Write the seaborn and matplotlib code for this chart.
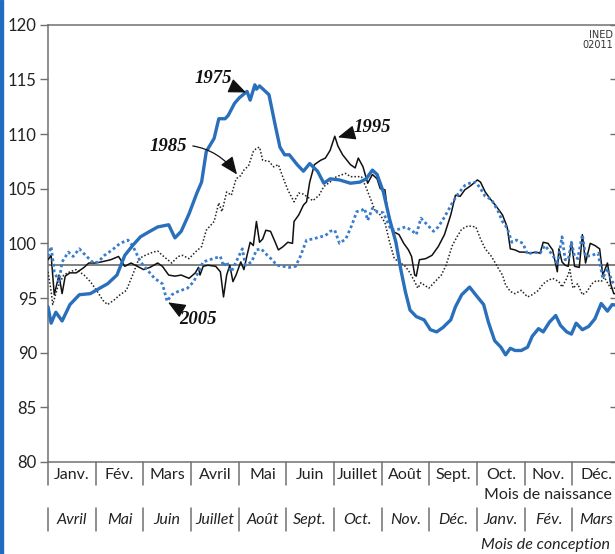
import matplotlib
matplotlib.use("Agg")
import numpy as np
import pandas as pd
import matplotlib.pyplot as plt
import seaborn as sns
from matplotlib import transforms
from matplotlib.lines import Line2D
from matplotlib.patches import Rectangle

# ---------------- data (day of year, index of births) ----------------
days_1975 = [0,2,5,9,14,20,27,33,38,44,49,54,59,65,70,77,81,85,90,95,98,101,106,109,113,115,119,122,127,129,
             132,133,135,141,145,148,151,154,159,163,167,172,176,180,186,193,199,203,207,210,214,218,222,225,228,
             231,235,240,244,248,252,257,260,264,269,274,278,281,285,289,292,295,298,302,306,309,313,316,320,324,
             327,331,334,337,341,345,349,353,357,360,365]
val_1975 = [94.2,92.7,93.7,92.9,94.4,95.3,95.4,95.9,96.3,97.1,98.9,99.8,100.6,101.1,101.5,101.7,100.5,101.1,102.7,104.6,
            105.6,108.4,109.6,111.4,111.4,111.7,112.8,113.3,113.9,113.1,114.5,114.1,114.4,113.6,110.8,108.8,108.1,108.1,
            107.2,106.6,107.3,106.6,105.5,105.9,105.8,105.5,105.6,105.9,106.7,106.3,104.7,102.2,100.1,97.7,95.6,93.9,
            93.3,93.0,92.1,91.9,92.3,93.0,94.2,95.3,96.0,95.1,94.4,92.8,91.1,90.5,89.8,90.4,90.2,90.2,90.5,91.5,92.2,
            91.9,92.8,93.4,92.5,91.9,91.7,92.7,92.1,92.4,93.1,94.5,93.8,94.4,94.3]

days_1985 = [0,2,3,6,8,10,14,18,23,27,31,35,38,42,46,50,54,58,62,67,70,73,79,83,86,90,94,98,101,106,
             109,111,114,117,120,123,125,128,131,133,135,137,141,144,147,150,153,157,160,163,166,169,173,176,180,
             184,190,193,197,200,203,206,209,212,215,218,221,225,228,231,234,236,238,243,247,251,254,258,261,264,
             268,273,276,279,283,287,290,292,295,298,302,306,309,313,316,319,322,326,328,331,333,335,338,341,344,
             347,350,353,355,359,365]
val_1985 = [97.4,95.6,94.4,95.9,96.5,97.1,97.4,97.6,97.1,96.5,95.7,94.8,94.4,94.8,95.3,95.7,97.1,98.6,98.9,99.2,
            99.3,98.9,98.2,98.8,98.9,98.6,99.2,99.7,101.2,102.0,103.7,102.9,104.7,104.4,105.9,106.2,106.7,107.1,108.4,
            108.7,108.8,107.6,107.5,107.0,107.2,106.0,104.9,103.8,104.6,104.5,104.2,103.9,104.4,105.2,105.6,106.1,
            106.4,106.1,106.1,106.1,105.1,104.0,102.9,102.6,101.9,100.1,98.6,98.2,97.9,97.3,96.5,95.9,96.4,95.9,96.5,
            97.1,98.0,99.8,100.6,101.3,101.6,101.5,100.4,99.5,98.8,97.8,97.1,96.2,95.6,95.4,95.7,95.1,95.3,95.7,96.3,
            96.6,96.8,96.5,96.0,96.8,97.6,95.9,96.3,95.3,95.6,96.3,96.6,96.5,96.9,95.9,95.9]

days_1995 = [0,2,4,7,9,11,14,18,23,26,30,34,40,45,49,53,57,61,65,70,73,77,81,85,90,94,96,97,99,102,
             107,110,112,114,116,118,120,123,125,127,129,131,133,135,137,139,142,145,147,150,153,156,157,160,163,
             165,167,170,174,177,180,183,185,188,193,196,198,201,204,207,210,212,215,217,220,224,227,230,232,234,
             235,237,241,245,249,253,257,260,263,266,270,274,276,279,282,286,290,293,295,298,301,304,308,311,314,
             316,319,322,325,326,328,330,332,334,336,339,341,343,346,349,352,354,357,359,361,365]
val_1995 = [98.5,98.9,95.3,97.1,95.4,97.0,97.3,97.3,97.8,98.2,98.2,98.3,98.5,98.8,97.9,98.2,97.9,97.6,97.8,98.2,
            97.9,97.1,97.0,97.1,96.8,97.3,97.8,97.1,97.9,98.0,97.9,97.4,95.1,97.1,98.0,96.5,97.1,98.3,97.6,98.9,
            100.1,99.8,102.0,100.1,100.4,101.2,101.1,100.1,99.4,99.7,100.1,100.0,102.0,102.6,103.5,103.8,105.6,107.2,
            107.6,107.8,108.5,109.8,108.9,108.1,107.2,106.9,107.8,107.0,105.5,106.3,105.9,105.0,104.9,102.6,101.1,
            100.8,100.0,99.4,98.8,97.1,97.0,98.5,98.6,98.9,99.7,100.8,102.6,104.4,104.3,104.9,105.3,105.8,105.6,104.7,
            104.1,103.4,102.6,101.5,99.5,99.4,99.2,99.2,99.1,99.2,99.1,100.1,100.0,99.4,97.4,99.5,98.3,98.0,97.9,
            100.1,97.9,97.8,100.8,98.2,100.0,99.8,99.5,97.1,98.2,96.3,95.4,95.4]

days_2005 = [0,2,4,7,9,13,16,20,24,29,32,36,41,46,51,54,59,65,68,73,76,79,83,89,93,96,99,103,110,112,
             114,117,120,124,126,130,133,136,140,143,146,150,154,158,161,165,169,174,177,180,183,186,190,194,197,
             200,202,204,207,210,214,219,224,228,232,235,238,242,246,249,253,258,262,266,269,273,276,279,283,287,
             290,293,296,299,303,306,310,314,317,320,324,325,328,330,332,334,336,338,341,343,347,351,354,357,360,365]
val_2005 = [98.8,99.7,97.4,96.5,98.3,99.2,98.8,99.5,98.9,98.2,98.3,98.9,99.4,100.0,100.3,99.8,98.3,97.3,96.8,96.3,
            94.7,95.3,95.6,95.9,96.5,97.4,98.3,98.5,98.8,97.9,98.3,97.4,98.3,99.5,98.0,98.3,99.4,99.5,98.9,98.5,
            98.0,97.9,97.8,97.9,98.8,100.3,100.4,100.6,100.7,101.1,101.2,100.0,100.4,101.7,102.9,103.0,103.2,102.1,
            103.2,102.9,102.8,101.2,101.3,101.5,101.2,100.8,102.3,101.7,101.1,101.5,102.4,103.7,104.6,105.3,105.5,
            105.6,105.0,104.3,104.0,103.0,102.0,101.4,100.1,100.3,100.0,99.0,99.2,99.1,99.8,99.3,98.5,98.0,100.6,
            98.5,98.5,100.1,98.8,98.6,100.8,98.8,98.9,99.1,96.8,97.7,96.5,95.8]

reference_level = 98
birth_months = ["Janv.", "Fév.", "Mars", "Avril", "Mai", "Juin", "Juillet", "Août", "Sept.", "Oct.", "Nov.", "Déc."]
conception_months = ["Avril", "Mai", "Juin", "Juillet", "Août", "Sept.", "Oct.", "Nov.", "Déc.", "Janv.", "Fév.", "Mars"]
y_ticks = [80, 85, 90, 95, 100, 105, 110, 115, 120]

# ---------------- styling ----------------
sns.set_style("ticks")
plt.rcParams['font.family'] = ['Lato', 'DejaVu Sans']

W, H = 615, 554
fig = plt.figure(figsize=(W / 100, H / 100), dpi=100)
fig.patch.set_facecolor("white")
L, R, T, B = 48, 620, 24.7, 462
ax = fig.add_axes([L / W, 1 - B / H, (R - L) / W, (B - T) / H])

BLUE = "#2a6fbb"
BLUE2 = "#3a7dcc"
GREY = "#707070"

ax.axhline(reference_level, color="#808080", lw=1.4, zorder=1)

sns.lineplot(x=days_1985, y=val_1985, ax=ax, color="#222222", lw=1.1, zorder=3)
ax.lines[-1].set_linestyle((0, (1, 1.3)))
sns.lineplot(x=days_1995, y=val_1995, ax=ax, color="#111111", lw=1.1, zorder=3)
sns.lineplot(x=days_2005, y=val_2005, ax=ax, color=BLUE2, lw=2.0, zorder=4)
ax.lines[-1].set_linestyle((0, (1, 1)))
sns.lineplot(x=days_1975, y=val_1975, ax=ax, color=BLUE, lw=2.4, zorder=5)

ax.set_xlim(0, 365)
ax.set_ylim(80, 120)
ax.set_yticks(y_ticks)
ax.set_xticks([])
ax.set_xlabel("")
ax.set_ylabel("")
ax.tick_params(axis="y", direction="out", length=6, width=1, color=GREY, labelsize=12, pad=2, labelcolor="#222222")
for s in ax.spines.values():
    s.set_color(GREY)
    s.set_linewidth(1.1)

ax2 = ax.twinx()
ax2.set_ylim(80, 120)
ax2.set_yticks(y_ticks)
ax2.tick_params(axis="y", direction="in", length=7, width=1, color=GREY, labelright=False)
for s in ax2.spines.values():
    s.set_visible(False)

# ---------------- month axis rows ----------------
trans = transforms.blended_transform_factory(ax.transData, fig.transFigure)
bounds = np.arange(13) * 365 / 12

def fy(py):
    return 1 - py / H

for k in range(12):
    ax.add_line(Line2D([bounds[k], bounds[k]], [fy(462), fy(485)], transform=trans,
                       color=GREY, lw=1.1, clip_on=False))
    ax.text((bounds[k] + bounds[k + 1]) / 2, fy(475), birth_months[k], transform=trans,
            ha="center", va="center", fontsize=11.5, color="#222222")
    ax.add_line(Line2D([bounds[k], bounds[k]], [fy(508), fy(531)], transform=trans,
                       color=GREY, lw=1.1, clip_on=False))
    ax.text((bounds[k] + bounds[k + 1]) / 2, fy(520), conception_months[k], transform=trans,
            ha="center", va="center", fontsize=11.5, style="italic", color="#222222")

fig.text(612 / W, fy(495), "Mois de naissance", ha="right", va="center", fontsize=11.5, color="#222222")
fig.text(610 / W, fy(545), "Mois de conception", ha="right", va="center", fontsize=11.5,
         style="italic", color="#222222")

fig.text(613 / W, fy(30), "INED\n02011", ha="right", va="top", fontsize=7, linespacing=1.0,
         family=["Liberation Sans Narrow", "DejaVu Sans"], color="#333333")

# ---------------- annotations ----------------
ann_font = dict(family=["Liberation Serif", "DejaVu Serif"], weight="bold", style="italic",
                fontsize=13.5, color="#111111")
arrow_kw = dict(arrowstyle="-|>,head_length=0.6,head_width=0.25", color="#111111", lw=0.9,
                mutation_scale=18, shrinkA=2, shrinkB=0)
ax.annotate("1975", xy=(126.4, 113.8), xytext=(105.3, 115.1), ha="center", va="center",
            arrowprops=dict(**arrow_kw, connectionstyle="arc3,rad=0"), zorder=6, **ann_font)
ax.annotate("1985", xy=(120.6, 106.3), xytext=(76.6, 108.9), ha="center", va="center",
            arrowprops=dict(**arrow_kw, connectionstyle="arc3,rad=-0.3"), zorder=6, **ann_font)
ax.annotate("1995", xy=(185.0, 109.7), xytext=(206.8, 110.6), ha="center", va="center",
            arrowprops=dict(**arrow_kw, connectionstyle="arc3,rad=0"), zorder=6, **ann_font)
ax.annotate("2005", xy=(76.6, 94.6), xytext=(95.7, 93.0), ha="center", va="center",
            arrowprops=dict(**arrow_kw, connectionstyle="arc3,rad=0"), zorder=6, **ann_font)

# blue frame edge on the left
fig.patches.append(Rectangle((0, 0), 3 / W, 1, transform=fig.transFigure, color="#1f6dc2", zorder=10))

fig.savefig("out.png", dpi=100)
